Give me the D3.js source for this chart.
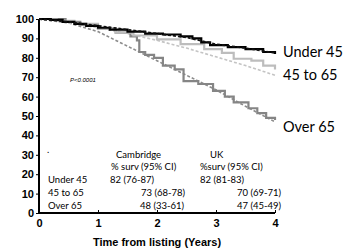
<!DOCTYPE html>
<html>
<head>
<meta charset="utf-8">
<script src="https://cdn.jsdelivr.net/npm/d3@7"></script>
<style>
  body { margin: 0; background: #fff; }
  svg { display: block; }
</style>
</head>
<body>
<script>
// survival curves, [years, % surviving]
var under45Camb = [[0,100],[0.2,99.5],[0.4,98.5],[0.6,97.5],[0.8,96.5],[1.0,95.5],[1.2,94.5],[1.5,93.5],[1.8,92.5],[2.1,92],[2.4,91],[2.6,90],[2.75,88],[2.9,86.5],[3.2,85.5],[3.5,84.5],[3.8,83],[4,82]];
var under45UK = [[0,100],[0.5,98.5],[1,96.5],[1.5,94.5],[2,92.5],[2.5,90.5],[3,87],[3.5,85],[4,82.5]];
var mid45Camb = [[0,100],[0.3,99],[0.6,97.5],[1,95],[1.3,93],[1.6,91.5],[2,89.5],[2.4,87],[2.8,84.5],[3.1,82.5],[3.3,79.5],[3.6,78.5],[3.8,76],[4,74]];
var mid45UK = [[0,100],[0.5,98],[1,95.5],[1.5,92.5],[2,89],[2.5,85],[3,80.5],[3.5,76],[4,71]];
var over65Camb = [[0,100],[0.35,100],[0.45,98.5],[0.7,97],[1.0,95],[1.3,93],[1.55,91],[1.66,89],[1.7,83],[1.8,81.5],[1.95,80],[2.1,76],[2.3,74],[2.45,68],[2.7,66.5],[2.95,63],[3.15,60],[3.3,57],[3.55,54],[3.7,51.5],[3.85,49],[4,48]];
var over65UK = [[0,100],[0.5,98],[1,93.5],[1.5,86],[2,78.5],[2.5,71],[3,63.5],[3.5,55],[4,47]];

var groups = ["Under 45", "45 to 65", "Over 65"];
var cambSurv = ["82  (76-87)", "73 (68-78)", "48  (33-61)"];
var ukSurv = ["82 (81-83)", "70 (69-71)", "47 (45-49)"];
var xTicks = [0, 1, 2, 3, 4];
var yTicks = [0, 10, 20, 30, 40, 50, 60, 70, 80, 90, 100];

var svg = d3.select("body").append("svg").attr("width", 344).attr("height", 251);

var x = d3.scaleLinear().domain([0, 4]).range([39, 275]);
var y = d3.scaleLinear().domain([0, 100]).range([213, 19]);

var boldFont = "Liberation Sans, Arial, sans-serif";
var softFont = "Lato, Open Sans, sans-serif";

// axes
var yAxis = svg.append("g").attr("transform", "translate(39,0)")
  .call(d3.axisLeft(y).tickValues(yTicks).tickFormat(d3.format("d")).tickSize(3).tickPadding(2));
yAxis.select(".domain").attr("stroke-width", 2).attr("d", "M0," + y(100) + "V" + (y(0) + 1));
yAxis.selectAll("text").style("font", "bold 11px " + boldFont).attr("fill", "#000");

var xAxis = svg.append("g").attr("transform", "translate(0,213)")
  .call(d3.axisBottom(x).tickValues(xTicks).tickFormat(d3.format("d")).tickSize(-3).tickPadding(6));
xAxis.select(".domain").attr("stroke-width", 2).attr("d", "M38,0H" + x(4));
xAxis.selectAll("text").style("font", "bold 11px " + boldFont).attr("fill", "#000");

svg.append("text").attr("x", 157).attr("y", 246).attr("text-anchor", "middle")
  .style("font", "bold 11px " + boldFont).text("Time from listing (Years)");

// curves
var stepLine = d3.line().x(function(d) { return x(d[0]); }).y(function(d) { return y(d[1]); })
  .curve(d3.curveStepAfter);
var straight = d3.line().x(function(d) { return x(d[0]); }).y(function(d) { return y(d[1]); });

var series = [
  { data: over65UK, gen: straight, color: "#8c8c8c", w: 1.6, dash: "3,2" },
  { data: mid45UK, gen: straight, color: "#c4c4c4", w: 1.6, dash: "3,2" },
  { data: over65Camb, gen: stepLine, color: "#858585", w: 2.2, dash: null },
  { data: mid45Camb, gen: stepLine, color: "#bdbdbd", w: 2.2, dash: null },
  { data: under45Camb, gen: stepLine, color: "#000", w: 2.2, dash: null },
  { data: under45UK, gen: straight, color: "#111", w: 1.8, dash: "3,2" }
];
series.forEach(function(s) {
  svg.append("path").attr("d", s.gen(s.data)).attr("fill", "none")
    .attr("stroke", s.color).attr("stroke-width", s.w)
    .attr("stroke-dasharray", s.dash);
});

// end labels
var endLabels = [[groups[0], 52], [groups[1], 75], [groups[2], 127]];
svg.selectAll(".endlab").data(endLabels).enter().append("text")
  .attr("x", 283).attr("y", function(d) { return d[1] + 5; })
  .style("font", "14.5px " + softFont).text(function(d) { return d[0]; });

svg.append("text").attr("x", 70).attr("y", 82)
  .style("font", "italic 6px " + boldFont).text("P<0.0001");

// table
var tf = "9.5px " + softFont;
svg.append("text").attr("x", 47).attr("y", 153).style("font", tf).text(".");
svg.append("text").attr("x", 116).attr("y", 158).style("font", tf).text("Cambridge");
svg.append("text").attr("x", 111).attr("y", 170).style("font", tf).text("% surv (95% CI)");
svg.append("text").attr("x", 210).attr("y", 158).style("font", tf).text("UK");
svg.append("text").attr("x", 200).attr("y", 170).style("font", tf).text("%surv (95% CI)");
var rowY = [183, 196, 209];
var cambX = [110, 141, 140];
var ukX = [200, 237, 237];
groups.forEach(function(g, i) {
  svg.append("text").attr("x", 48).attr("y", rowY[i]).style("font", tf).text(g);
  svg.append("text").attr("x", cambX[i]).attr("y", rowY[i]).style("font", tf).text(cambSurv[i]);
  svg.append("text").attr("x", ukX[i]).attr("y", rowY[i]).style("font", tf).text(ukSurv[i]);
});
</script>
</body>
</html>
